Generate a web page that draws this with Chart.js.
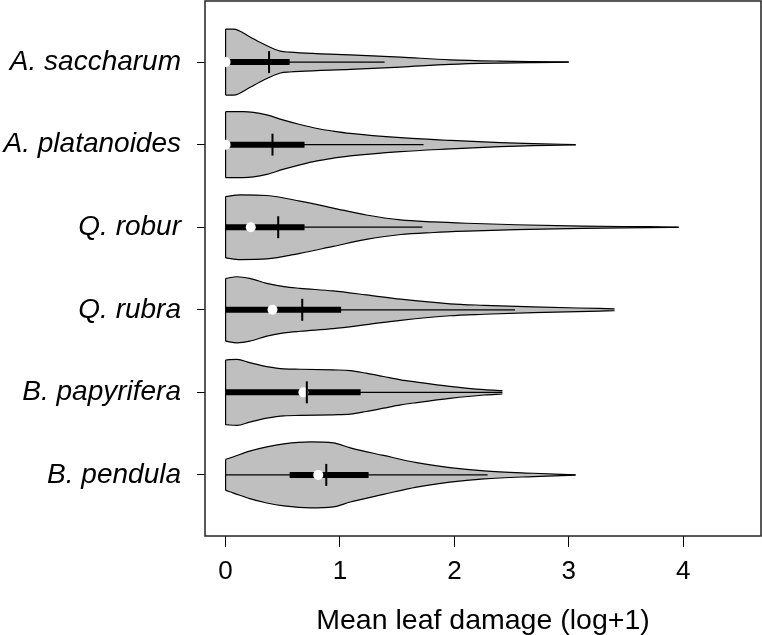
<!DOCTYPE html>
<html>
<head>
<meta charset="utf-8">
<script src="https://cdn.jsdelivr.net/npm/chart.js@4"></script>
<style>
  body { margin: 0; background: #fff; }
  #wrap { width: 762px; height: 635px; }
</style>
</head>
<body>
<div id="wrap"><canvas id="violins"></canvas></div>
<script>
// species, top to bottom
const species = ["A. saccharum", "A. platanoides", "Q. robur", "Q. rubra", "B. papyrifera", "B. pendula"];

// violin outline: damage value and relative half width (1 = widest)
const profileX = [
  [0, 0.07, 0.21, 0.30, 0.39, 0.48, 0.56, 0.65, 1.09, 1.53, 1.96, 2.40, 2.69, 3.00],
  [0, 0.155, 0.36, 0.50, 0.65, 0.80, 0.94, 1.09, 1.53, 1.96, 2.40, 2.69, 3.06],
  [0, 0.13, 0.36, 0.65, 0.94, 1.23, 1.53, 1.82, 2.11, 2.54, 3.12, 3.70, 3.96],
  [0, 0.10, 0.21, 0.36, 0.51, 0.65, 0.94, 1.23, 1.53, 1.96, 2.26, 2.69, 3.27, 3.40],
  [0, 0.10, 0.21, 0.36, 0.51, 0.65, 0.94, 1.09, 1.23, 1.38, 1.53, 1.67, 1.96, 2.26, 2.42],
  [0, 0.07, 0.21, 0.36, 0.51, 0.74, 0.94, 1.09, 1.38, 1.67, 1.96, 2.26, 2.69, 3.06]
];
const profileW = [
  [1, 1, 0.77, 0.60, 0.45, 0.33, 0.30, 0.28, 0.22, 0.15, 0.07, 0.03, 0.015, 0.004],
  [1, 1, 0.90, 0.75, 0.61, 0.49, 0.41, 0.34, 0.21, 0.13, 0.06, 0.03, 0.004],
  [0.93, 0.98, 0.96, 0.79, 0.58, 0.37, 0.22, 0.16, 0.12, 0.075, 0.035, 0.015, 0.004],
  [0.95, 1, 0.95, 0.80, 0.70, 0.65, 0.57, 0.45, 0.32, 0.18, 0.135, 0.085, 0.04, 0.03],
  [0.98, 1, 0.90, 0.78, 0.71, 0.70, 0.68, 0.66, 0.58, 0.48, 0.38, 0.31, 0.18, 0.08, 0.05],
  [0.47, 0.55, 0.72, 0.85, 0.94, 1, 0.97, 0.82, 0.59, 0.37, 0.22, 0.12, 0.05, 0.004]
];

// box plot summaries
const medians   = [0, 0, 0.22, 0.41, 0.68, 0.81];
const means     = [0.38, 0.41, 0.46, 0.67, 0.71, 0.88];
const q1        = [0, 0, 0, 0, 0, 0.56];
const q3        = [0.56, 0.69, 0.69, 1.01, 1.18, 1.25];
const whiskerLo = [0, 0, 0, 0, 0, 0];
const whiskerHi = [1.39, 1.73, 1.72, 2.53, 2.42, 2.29];

const xTicks = [0, 1, 2, 3, 4];

const halfWidth = 0.4;
const meanHalf = 0.133;
const fontFamily = "'Liberation Sans', Arial, sans-serif";

const datasets = [];
species.forEach((name, i) => {
  const c = species.length - i;
  const xs = profileX[i];
  const ws = profileW[i];
  const upper = xs.map((x, k) => ({ x: x, y: c + ws[k] * halfWidth }));
  const lower = xs.map((x, k) => ({ x: x, y: c - ws[k] * halfWidth }));

  datasets.push({
    data: upper, showLine: true, pointRadius: 0,
    borderColor: "#000", borderWidth: 1.2,
    cubicInterpolationMode: "monotone",
    fill: "+1", backgroundColor: "#bfbfbf", order: 7
  });
  datasets.push({
    data: lower, showLine: true, pointRadius: 0,
    borderColor: "#000", borderWidth: 1.2,
    cubicInterpolationMode: "monotone",
    fill: false, order: 6
  });
  // flat left end of the violin
  datasets.push({
    data: [upper[0], lower[0]], showLine: true, pointRadius: 0,
    borderColor: "#000", borderWidth: 1.2, fill: false, order: 6
  });
  // whiskers
  datasets.push({
    data: [{ x: whiskerLo[i], y: c }, { x: whiskerHi[i], y: c }],
    showLine: true, pointRadius: 0, borderColor: "#000", borderWidth: 1.2, order: 5
  });
  // interquartile bar
  datasets.push({
    data: [{ x: q1[i], y: c }, { x: q3[i], y: c }],
    showLine: true, pointRadius: 0, borderColor: "#000", borderWidth: 6, order: 4
  });
  // mean
  datasets.push({
    data: [{ x: means[i], y: c - meanHalf }, { x: means[i], y: c + meanHalf }],
    showLine: true, pointRadius: 0, borderColor: "#000", borderWidth: 2, order: 1
  });
});

// medians as white dots
datasets.push({
  data: species.map((s, i) => ({ x: medians[i], y: species.length - i })),
  showLine: false, pointRadius: 5, pointBackgroundColor: "#fff",
  pointBorderWidth: 0, pointBorderColor: "#fff", order: 2
});

const boxPlugin = {
  id: "plotBox",
  afterDraw(chart) {
    const a = chart.chartArea;
    const ctx = chart.ctx;
    ctx.save();
    ctx.strokeStyle = "#222";
    ctx.lineWidth = 1.5;
    ctx.strokeRect(a.left, a.top, a.right - a.left, a.bottom - a.top);
    ctx.restore();
  }
};

new Chart(document.getElementById("violins"), {
  type: "scatter",
  data: { datasets: datasets },
  options: {
    responsive: true,
    maintainAspectRatio: false,
    animation: false,
    events: [],
    layout: { autoPadding: false, padding: { top: 1, right: 1, left: 0, bottom: 0 } },
    plugins: { legend: { display: false }, tooltip: { enabled: false } },
    scales: {
      x: {
        type: "linear",
        min: -0.18,
        max: 4.68,
        afterBuildTicks: (s) => { s.ticks = xTicks.map((v) => ({ value: v })); },
        afterFit: (s) => { s.height = 99; s.paddingLeft = 0; s.paddingRight = 0; },
        grid: { display: true, drawOnChartArea: false, drawTicks: true, tickLength: 11, color: "#000", lineWidth: 1 },
        border: { display: false },
        ticks: { color: "#000", padding: 9, maxRotation: 0, font: { family: fontFamily, size: 26 } },
        title: {
          display: true, text: "Mean leaf damage (log+1)", color: "#000",
          padding: { top: 0, bottom: -3 }, font: { family: fontFamily, size: 28.5 }
        }
      },
      y: {
        type: "linear",
        min: 0.26,
        max: 6.74,
        afterBuildTicks: (s) => { s.ticks = species.map((n, i) => ({ value: species.length - i })); },
        afterFit: (s) => { s.width = 205; s.paddingTop = 0; s.paddingBottom = 0; },
        grid: { display: true, drawOnChartArea: false, drawTicks: true, tickLength: 8, color: "#000", lineWidth: 1 },
        border: { display: false },
        ticks: {
          color: "#000", padding: 16,
          font: { family: fontFamily, size: 28, style: "italic" },
          callback: (v) => species[species.length - v]
        }
      }
    }
  },
  plugins: [boxPlugin]
});
</script>
</body>
</html>
